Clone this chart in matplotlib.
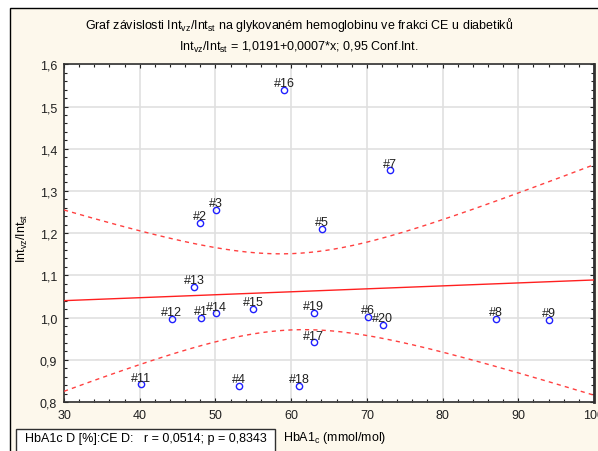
import numpy as np
import matplotlib
matplotlib.use("Agg")
import matplotlib.pyplot as plt
from matplotlib.patches import Rectangle
from matplotlib.ticker import MultipleLocator, FuncFormatter

plt.rcParams["font.family"] = ["Liberation Sans", "DejaVu Sans"]
plt.rcParams["mathtext.fontset"] = "custom"
plt.rcParams["mathtext.rm"] = "Liberation Sans"

# data
labels = ["#1", "#2", "#3", "#4", "#5", "#6", "#7", "#8", "#9", "#11",
          "#12", "#13", "#14", "#15", "#16", "#17", "#18", "#19", "#20"]
hba1c = [48.1, 48.0, 50.1, 53.1, 64.05, 70.1, 73.05, 87.1, 94.1, 40.2,
         44.2, 47.2, 50.1, 55.0, 59.1, 63.0, 61.1, 63.0, 72.1]
ratio = [1.000, 1.225, 1.256, 0.838, 1.210, 1.002, 1.349, 0.997, 0.995, 0.842,
         0.997, 1.072, 1.010, 1.020, 1.539, 0.941, 0.838, 1.012, 0.983]
intercept, slope = 1.0191, 0.0007
t_crit = 2.11  # t(0.975, n-2)

x = np.array(hba1c)
y = np.array(ratio)
n = len(x)

# regression line and 95% confidence band around it
xs = np.linspace(30, 100, 200)
fit = intercept + slope * xs
resid = y - (intercept + slope * x)
s = np.sqrt(np.sum(resid ** 2) / (n - 2))
sxx = np.sum((x - x.mean()) ** 2)
hw = t_crit * s * np.sqrt(1.0 / n + (xs - x.mean()) ** 2 / sxx)

fig = plt.figure(figsize=(5.98, 4.52), dpi=100, facecolor="white")
# cream panel with black frame
fig.patches.append(Rectangle((10 / 598, -0.1), 1.2, 1.1 - 9 / 452 + 0.0,
                             transform=fig.transFigure, facecolor="#fdf8ec",
                             edgecolor="black", linewidth=1.0, zorder=-10))

ax = fig.add_axes([64 / 598, 1 - 403 / 452, 530 / 598, (403 - 65.3) / 452])
ax.set_facecolor("white")

ax.plot(xs, fit, color="#ff2020", lw=1.0, zorder=3)
ax.plot(xs, fit + hw, color="#ff4040", lw=1.0, ls=(0, (3, 3)), zorder=3)
ax.plot(xs, fit - hw, color="#ff4040", lw=1.0, ls=(0, (3, 3)), zorder=3)

ax.plot(x, y, "o", mfc="none", mec="#2020ff", mew=1.0, ms=4.5, zorder=4)
for lab, xi, yi in zip(labels, hba1c, ratio):
    ax.annotate(lab, (xi, yi), xytext=(0, 0.5), textcoords="offset points",
                ha="center", va="bottom", fontsize=9, color="#202020", zorder=5)

ax.set_xlim(30, 100)
ax.set_ylim(0.8, 1.6)
ax.xaxis.set_major_locator(MultipleLocator(10))
ax.xaxis.set_minor_locator(MultipleLocator(2))
ax.yaxis.set_major_locator(MultipleLocator(0.1))
ax.yaxis.set_minor_locator(MultipleLocator(0.02))
ax.yaxis.set_major_formatter(FuncFormatter(lambda v, p: f"{v:.1f}".replace(".", ",")))
ax.grid(True, which="major", color="#e0e0e0", lw=1.2, zorder=0)
ax.set_axisbelow(True)
ax.tick_params(which="both", direction="in", top=True, right=True,
               labelsize=9, colors="#202020", width=0.8)
ax.tick_params(which="major", length=3, pad=5)
ax.tick_params(which="minor", length=2)
for side, sp in ax.spines.items():
    sp.set_color("#303030")
    sp.set_linewidth(1.2)
ax.spines["right"].set_linewidth(2.0)

fig.text(0.5, 1 - 25 / 452, "Graf závislosti Int$_\\mathregular{vz}$/Int$_\\mathregular{st}$ "
         "na glykovaném hemoglobinu ve frakci CE u diabetiků",
         ha="center", va="center", fontsize=9)
fig.text(0.5, 1 - 47 / 452, "Int$_\\mathregular{vz}$/Int$_\\mathregular{st}$ = "
         "1,0191+0,0007*x; 0,95 Conf.Int.",
         ha="center", va="center", fontsize=9)
fig.text(22 / 598, 1 - 238 / 452, "Int$_\\mathregular{vz}$/Int$_\\mathregular{st}$",
         rotation=90, ha="center", va="center", fontsize=9)
fig.text(335 / 598, 1 - 438 / 452, "HbA1$_\\mathregular{c}$ (mmol/mol)",
         ha="center", va="center", fontsize=9)

fig.patches.append(Rectangle((16 / 598, -0.1), 259 / 598, 0.1 + 22 / 452,
                             transform=fig.transFigure, facecolor="white",
                             edgecolor="#303030", linewidth=1.0, zorder=5))
fig.text(146 / 598, 1 - 439 / 452, "HbA1c D [%]:CE D:   r = 0,0514; p = 0,8343",
         ha="center", va="center", fontsize=9, zorder=6)

fig.savefig("out.png", dpi=100, facecolor=fig.get_facecolor())
